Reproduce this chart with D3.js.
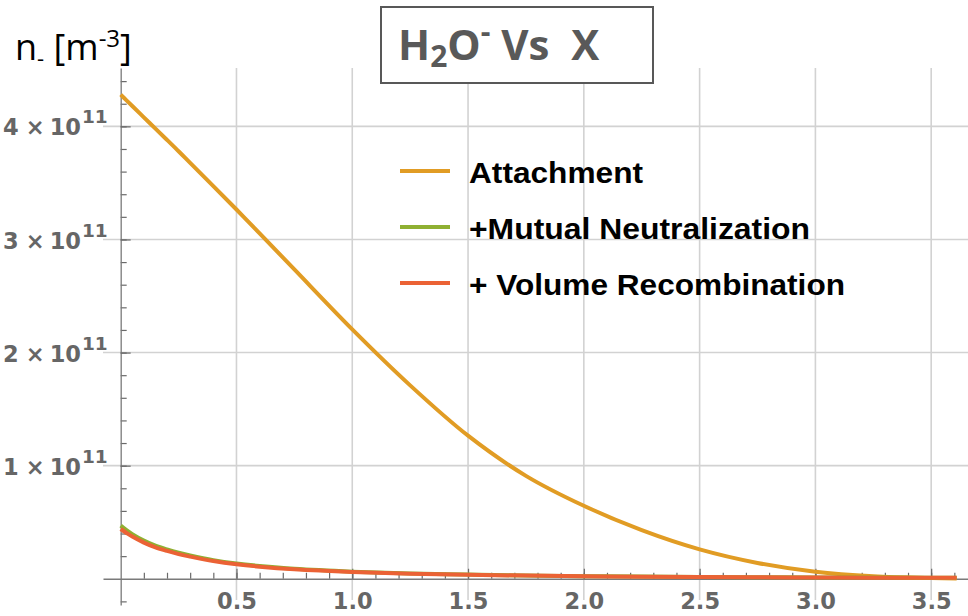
<!DOCTYPE html>
<html>
<head>
<meta charset="utf-8">
<script src="https://cdn.jsdelivr.net/npm/d3@7"></script>
<style>
  body { margin: 0; background: #fff; }
  svg { display: block; }
</style>
</head>
<body>
<div id="chart"></div>
<script>
// position X and density n_- of H2O- (in units of 1e11 m^-3)
const xs         = [0, 0.025, 0.05, 0.1, 0.15, 0.2, 0.25, 0.3, 0.4, 0.5, 0.6, 0.75, 1.0, 1.25, 1.5, 1.75, 2.0, 2.25, 2.5, 2.75, 3.0, 3.25, 3.5, 3.61];
const attachment = [4.28, 4.23, 4.18, 4.08, 3.98, 3.88, 3.78, 3.677, 3.472, 3.265, 3.054, 2.735, 2.205, 1.71, 1.265, 0.91, 0.645, 0.43, 0.26, 0.14, 0.062, 0.022, 0.006, 0.003];
const mutual     = [0.47, 0.43, 0.395, 0.338, 0.293, 0.259, 0.23, 0.206, 0.165, 0.135, 0.113, 0.088, 0.063, 0.047, 0.037, 0.029, 0.023, 0.019, 0.016, 0.014, 0.012, 0.011, 0.010, 0.009];
const volume     = [0.44, 0.405, 0.373, 0.32, 0.278, 0.246, 0.218, 0.196, 0.157, 0.128, 0.107, 0.084, 0.060, 0.045, 0.035, 0.028, 0.022, 0.018, 0.015, 0.013, 0.011, 0.010, 0.009, 0.008];

const seriesNames  = ["Attachment", "+Mutual Neutralization", "+ Volume Recombination"];
const seriesColors = ["#E19C24", "#8FB032", "#EB6235"];

const xMajorTicks = [0.5, 1.0, 1.5, 2.0, 2.5, 3.0, 3.5];
const yMajorTicks = [1, 2, 3, 4];

const width = 968, height = 616;

const svg = d3.select("#chart")
    .append("svg")
    .attr("width", width)
    .attr("height", height);

// Scales (domain = visible plot range)
const xscale = d3.scaleLinear().domain([-0.0764, 3.659]).range([103, 968]);
const yscale = d3.scaleLinear().domain([-0.232, 4.516]).range([605, 68]);

const gridColor = "#d2d2d2";
const axisColor = "#7a7a7a";
const labelColor = "#666";

// Grid lines
const grid = svg.append("g").attr("class", "grid");
grid.selectAll("line.v")
    .data(xMajorTicks)
    .join("line")
    .attr("class", "v")
    .attr("x1", d => xscale(d)).attr("x2", d => xscale(d))
    .attr("y1", yscale.range()[1]).attr("y2", 600)
    .attr("stroke", gridColor).attr("stroke-width", 1.6);
grid.selectAll("line.h")
    .data(yMajorTicks)
    .join("line")
    .attr("class", "h")
    .attr("x1", xscale.range()[0]).attr("x2", xscale.range()[1])
    .attr("y1", d => yscale(d)).attr("y2", d => yscale(d))
    .attr("stroke", gridColor).attr("stroke-width", 1.6);

// X axis: minor ticks, then major ticks with labels
const xMinor = d3.range(1, 37).map(i => i / 10);
const g_xminor = svg.append("g")
    .attr("transform", `translate(0,${yscale(0)})`)
    .call(d3.axisBottom(xscale).tickValues(xMinor).tickSize(-6).tickSizeOuter(0).tickFormat(""));
const g_xaxis = svg.append("g")
    .attr("transform", `translate(0,${yscale(0)})`)
    .call(d3.axisBottom(xscale).tickValues(xMajorTicks).tickSize(-10).tickSizeOuter(0)
        .tickPadding(14.4).tickFormat(d3.format(".1f")));

// Y axis
const yMinor = d3.range(-1, 23).map(i => i / 5).filter(d => d !== 0);
const g_yminor = svg.append("g")
    .attr("transform", `translate(${xscale(0)},0)`)
    .call(d3.axisLeft(yscale).tickValues(yMinor).tickSize(-6).tickSizeOuter(0).tickFormat(""));
const g_yaxis = svg.append("g")
    .attr("transform", `translate(${xscale(0)},0)`)
    .call(d3.axisLeft(yscale).tickValues(yMajorTicks).tickSize(-10).tickSizeOuter(0).tickPadding(13));

[g_xminor, g_xaxis, g_yminor, g_yaxis].forEach(g => {
    g.selectAll("path.domain").attr("stroke", axisColor).attr("stroke-width", 1.3);
    g.selectAll(".tick line").attr("stroke", "#6a6a6a").attr("stroke-width", 1.2);
});
g_xminor.select("path.domain").remove();
g_yminor.select("path.domain").remove();

g_xaxis.selectAll("text")
    .attr("fill", labelColor)
    .style("font-family", "'DejaVu Sans', sans-serif")
    .style("font-weight", "bold")
    .style("font-size", "22.5px");

// y labels as  4 × 10^11
g_yaxis.selectAll(".tick text").each(function (d) {
    const t = d3.select(this);
    t.text(null)
        .attr("dy", "0.38em")
        .attr("fill", labelColor)
        .style("font-family", "'DejaVu Sans', sans-serif")
        .style("font-weight", "bold")
        .style("font-size", "22.5px");
    t.append("tspan").text(d);
    t.append("tspan").attr("dx", 7).text("\u00d7");
    t.append("tspan").attr("dx", 5).text("10");
    t.append("tspan").attr("dx", 1).attr("dy", -12).style("font-size", "18.5px").text("11");
});

// Curves
const line = d3.line()
    .x(d => xscale(d[0]))
    .y(d => yscale(d[1]))
    .curve(d3.curveCatmullRom.alpha(0.5));

const series = [attachment, mutual, volume];
svg.append("g").selectAll("path")
    .data(series)
    .join("path")
    .attr("d", vals => line(xs.map((x, i) => [x, vals[i]])))
    .attr("fill", "none")
    .attr("stroke", (d, i) => seriesColors[i])
    .attr("stroke-width", 4);

// Legend
const legendLengths = [174, 341, 376];
const legend = svg.append("g");
seriesNames.forEach((name, i) => {
    const ly = 171 + i * 56;
    legend.append("line")
        .attr("x1", 400).attr("x2", 450)
        .attr("y1", ly).attr("y2", ly)
        .attr("stroke", seriesColors[i]).attr("stroke-width", 4);
    legend.append("text")
        .attr("x", 469).attr("y", ly + 12)
        .attr("textLength", legendLengths[i])
        .attr("lengthAdjust", "spacingAndGlyphs")
        .style("font-family", "'Liberation Sans', Arial, sans-serif")
        .style("font-weight", "bold")
        .style("font-size", "29px")
        .attr("fill", "#000")
        .text(name);
});

// Title box
const title = svg.append("g");
title.append("rect")
    .attr("x", 381).attr("y", 7)
    .attr("width", 272).attr("height", 76)
    .attr("fill", "#fff").attr("stroke", "#585858").attr("stroke-width", 2);
const tt = title.append("text")
    .attr("x", 398).attr("y", 60)
    .attr("fill", "#595959")
    .style("font-family", "'Open Sans', sans-serif")
    .style("font-weight", "bold")
    .style("font-size", "42px")
    .style("white-space", "pre");
tt.append("tspan").text("H");
tt.append("tspan").attr("dy", 7).style("font-size", "30px").text("2");
tt.append("tspan").attr("dy", -7).text("O");
tt.append("tspan").attr("dy", -18).style("font-size", "30px").text("-");
tt.append("tspan").attr("dy", 18).text(" Vs  X");

// Y axis label  n_- [m^-3]
const yl = svg.append("text")
    .attr("x", 15).attr("y", 60)
    .attr("fill", "#000")
    .style("font-family", "'Open Sans', sans-serif")
    .style("font-size", "36px")
    .style("white-space", "pre");
yl.append("tspan").text("n");
yl.append("tspan").attr("dy", 6).style("font-size", "22px").text("-");
yl.append("tspan").attr("dy", -6).text(" [m");
yl.append("tspan").attr("dy", -13).style("font-size", "24px").text("-3");
yl.append("tspan").attr("dy", 13).text("]");
</script>
</body>
</html>
